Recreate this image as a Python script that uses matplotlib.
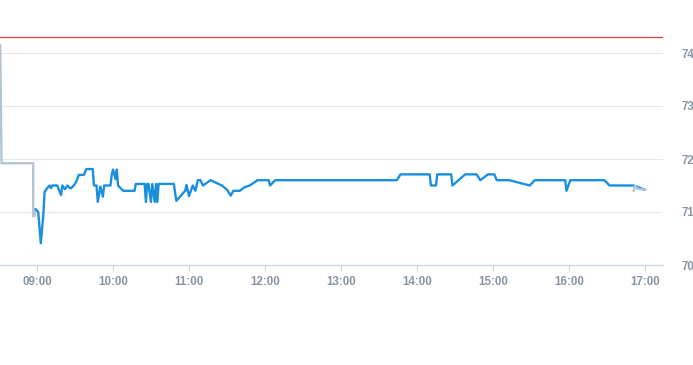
import matplotlib
matplotlib.use("Agg")
import matplotlib.pyplot as plt
from matplotlib.ticker import FixedLocator, FuncFormatter

# pre-open / after-close series (grey)
pre_times = ["08:31", "08:32", "08:57", "08:57", "08:58", "08:59"]
pre_values = [74.15, 71.92, 71.92, 70.92, 70.92, 71.05]
post_times = ["16:51", "16:52", "16:54", "17:00"]
post_values = [71.40, 71.49, 71.44, 71.42]

# intraday series (blue)
times = [
    "08:59", "09:01", "09:03", "09:05", "09:06", "09:08", "09:10", "09:11", "09:12", "09:16",
    "09:19", "09:20", "09:22", "09:24", "09:26", "09:27", "09:29", "09:31", "09:33", "09:37",
    "09:39", "09:44", "09:45", "09:47", "09:48", "09:50", "09:52", "09:53", "09:58", "09:59",
    "10:00", "10:02", "10:03", "10:04", "10:08", "10:17", "10:18", "10:25", "10:26", "10:27",
    "10:28", "10:30", "10:31", "10:33", "10:34", "10:35", "10:36", "10:48", "10:50", "10:57",
    "10:58", "11:00", "11:03", "11:05", "11:07", "11:09", "11:11", "11:17", "11:26", "11:30",
    "11:33", "11:35", "11:40", "11:44", "11:48", "11:54", "12:03", "12:04", "12:08", "13:44",
    "13:47", "14:10", "14:11", "14:15", "14:16", "14:27", "14:28", "14:38", "14:47", "14:50",
    "14:56", "15:01", "15:03", "15:13", "15:29", "15:33", "15:57", "15:58", "16:01", "16:28",
    "16:32", "16:51", "17:00",
]
values = [
    71.05, 71.00, 70.41, 70.95, 71.38, 71.45, 71.50, 71.45, 71.50, 71.50,
    71.32, 71.50, 71.43, 71.50, 71.45, 71.45, 71.50, 71.57, 71.70, 71.70,
    71.81, 71.81, 71.50, 71.50, 71.19, 71.48, 71.29, 71.50, 71.50, 71.70,
    71.80, 71.62, 71.80, 71.50, 71.40, 71.40, 71.53, 71.53, 71.19, 71.53,
    71.53, 71.19, 71.53, 71.19, 71.53, 71.19, 71.53, 71.53, 71.21, 71.40,
    71.51, 71.30, 71.50, 71.40, 71.60, 71.60, 71.50, 71.60, 71.50, 71.42,
    71.31, 71.40, 71.40, 71.47, 71.50, 71.60, 71.60, 71.50, 71.60, 71.60,
    71.71, 71.71, 71.50, 71.50, 71.71, 71.71, 71.50, 71.71, 71.71, 71.60,
    71.71, 71.71, 71.60, 71.60, 71.50, 71.60, 71.60, 71.40, 71.60, 71.60,
    71.50, 71.50, 71.42,
]
prev_close = 74.30
hour_ticks = ["09:00", "10:00", "11:00", "12:00", "13:00", "14:00", "15:00", "16:00", "17:00"]
y_ticks = [70, 71, 72, 73, 74]


def to_min(t):
    h, m = t.split(":")
    return int(h) * 60 + int(m)


label_color = "#8896a4"

fig = plt.figure(figsize=(6.93, 3.65), dpi=100)
ax = fig.add_axes((0, 1 - 265 / 365, 663 / 693, (265 - 26.5) / 365))

ax.axhline(prev_close, color="#d9453d", lw=0.9, zorder=2)
ax.plot([to_min(t) for t in pre_times], pre_values, color="#b4c4d0", lw=1.7, zorder=3)
ax.plot([to_min(t) for t in times], values, color="#1a8fdd", lw=1.7, zorder=4)
ax.plot([to_min(t) for t in post_times], post_values, color="#b4c4d0", lw=1.7, zorder=5)

ax.set_xlim(to_min("08:31") - 0.2, to_min("17:14") + 0.2)
ax.set_ylim(70, 74.5)

ax.xaxis.set_major_locator(FixedLocator([to_min(t) for t in hour_ticks]))
ax.xaxis.set_major_formatter(FuncFormatter(lambda v, p: f"{int(v) // 60:02d}:{int(v) % 60:02d}"))
ax.set_yticks(y_ticks)
ax.yaxis.tick_right()

ax.grid(axis="y", color="#e6e6e6", lw=0.8)
ax.set_axisbelow(True)
for s in ["top", "left", "right"]:
    ax.spines[s].set_visible(False)
ax.spines["bottom"].set_color("#ccd6e0")
ax.spines["bottom"].set_linewidth(0.9)

ax.tick_params(axis="x", length=4, width=0.8, color="#ccd6e0", pad=4,
               labelsize=8.3, labelcolor=label_color)
ax.tick_params(axis="y", length=0, pad=13, labelsize=8.3, labelcolor=label_color)
for lab in ax.get_xticklabels() + ax.get_yticklabels():
    lab.set_fontfamily("Liberation Sans")
    lab.set_fontweight("bold")

fig.savefig("out.png", dpi=100)
